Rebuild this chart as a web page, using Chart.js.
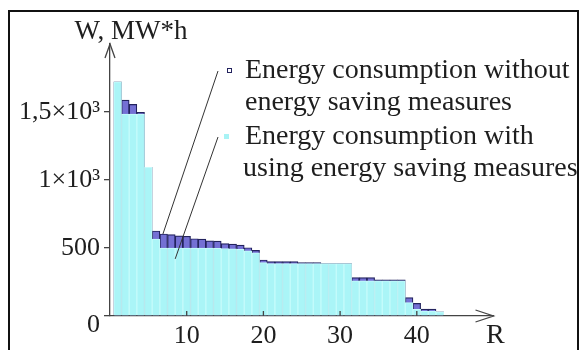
<!DOCTYPE html>
<html>
<head>
<meta charset="utf-8">
<script src="https://cdn.jsdelivr.net/npm/chart.js@4"></script>
<style>
  html, body { margin: 0; padding: 0; background: #fff; }
  #wrap { width: 582px; height: 350px; position: relative; }
</style>
</head>
<body>
<div id="wrap"><canvas id="c"></canvas></div>
<script>
// Rank of consumer (R) and energy consumption W, MW*h
const rank = [1, 2, 3, 4, 5, 6, 7, 8, 9, 10, 11, 12, 13, 14, 15, 16, 17, 18, 19, 20,
  21, 22, 23, 24, 25, 26, 27, 28, 29, 30, 31, 32, 33, 34, 35, 36, 37, 38, 39, 40, 41, 42, 43];

const withoutSaving = [1722, 1588, 1556, 1497, 1093, 625, 603, 598, 590, 586, 568, 565, 553, 550, 532, 528, 522, 502, 482, 412,
  400, 400, 400, 400, 392, 392, 392, 385, 385, 385, 385, 282, 282, 282, 266, 266, 266, 266, 135, 93, 51, 51, 30];

const withSaving = [1722, 1485, 1485, 1485, 1093, 566, 500, 500, 500, 500, 500, 500, 500, 498, 496, 494, 490, 480, 465, 392,
  385, 385, 385, 385, 385, 385, 385, 385, 385, 385, 385, 259, 259, 259, 259, 259, 259, 259, 98, 49, 37, 37, 30];

const yTickValues = [0, 500, 1000, 1500];
const yTickLabels = [['', '0'], '500', '1×10³', '1,5×10³'];
const xTickValues = [10, 20, 30, 40];

const yAxisTitle = 'W, MW*h';
const xAxisTitle = 'R';
const legendWithout = ['Energy consumption without', 'energy saving measures'];
const legendWith = ['Energy consumption with', 'using energy saving measures'];
// where each legend leader line points, in data units (R, W)
const leaderWithout = [6.9, 603];
const leaderWith = [8.5, 420];

const serif = "'Liberation Serif', 'Times New Roman', serif";
const ink = '#1e1e1e';

const decorations = {
  id: 'decorations',
  beforeDraw(chart) {
    const ctx = chart.ctx;
    ctx.save();
    ctx.fillStyle = '#ffffff';
    ctx.fillRect(0, 0, chart.width, chart.height);
    // outer frame
    ctx.strokeStyle = '#111';
    ctx.lineWidth = 2;
    ctx.beginPath();
    ctx.moveTo(9, chart.height + 2);
    ctx.lineTo(9, 11);
    ctx.lineTo(578, 11);
    ctx.lineTo(578, chart.height + 2);
    ctx.stroke();
    ctx.restore();
  },
  afterDraw(chart) {
    const ctx = chart.ctx;
    const xs = chart.scales.x, ys = chart.scales.y;
    const area = chart.chartArea;
    ctx.save();
    ctx.strokeStyle = '#444';
    ctx.lineWidth = 1.3;

    // inward ticks on the R axis
    ctx.beginPath();
    xTickValues.forEach(v => {
      const px = xs.getPixelForValue(v);
      ctx.moveTo(px, area.bottom);
      ctx.lineTo(px, area.bottom - 5);
    });
    ctx.stroke();

    // axis arrowheads
    ctx.beginPath();
    ctx.moveTo(area.right - 18, area.bottom - 6);
    ctx.lineTo(area.right, area.bottom);
    ctx.lineTo(area.right - 18, area.bottom + 6);
    ctx.moveTo(area.left - 5, area.top + 14);
    ctx.lineTo(area.left, area.top);
    ctx.lineTo(area.left + 5, area.top + 14);
    ctx.stroke();

    // axis titles
    ctx.fillStyle = ink;
    ctx.textBaseline = 'alphabetic';
    ctx.font = '27px ' + serif;
    ctx.textAlign = 'center';
    ctx.fillText(yAxisTitle, 131, 39);
    ctx.font = '28px ' + serif;
    ctx.textAlign = 'left';
    ctx.fillText(xAxisTitle, 486, 343);

    // legend leader lines
    ctx.strokeStyle = '#333';
    ctx.lineWidth = 1;
    ctx.beginPath();
    ctx.moveTo(218, 71);
    ctx.lineTo(xs.getPixelForValue(leaderWithout[0]), ys.getPixelForValue(leaderWithout[1]));
    ctx.moveTo(218, 137);
    ctx.lineTo(xs.getPixelForValue(leaderWith[0]), ys.getPixelForValue(leaderWith[1]));
    ctx.stroke();

    // legend markers
    ctx.fillStyle = '#ffffff';
    ctx.strokeStyle = '#23235e';
    ctx.fillRect(227, 68, 4, 4);
    ctx.strokeRect(227.5, 68.5, 4, 4);
    ctx.fillStyle = '#a8f3f5';
    ctx.fillRect(224, 134, 5, 5);

    // legend text
    ctx.fillStyle = ink;
    ctx.font = '28px ' + serif;
    ctx.textAlign = 'left';
    ctx.fillText(legendWithout[0], 245, 78);
    ctx.fillText(legendWithout[1], 245, 110);
    ctx.fillText(legendWith[0], 245, 144);
    ctx.fillText(legendWith[1], 243, 176);
    ctx.restore();
  }
};

new Chart(document.getElementById('c'), {
  type: 'bar',
  data: {
    datasets: [
      {
        label: legendWith.join(' '),
        data: rank.map((r, i) => ({ x: r, y: withSaving[i] })),
        backgroundColor: 'rgb(170, 245, 247)',
        borderColor: 'rgb(198, 251, 251)',
        borderWidth: 1,
        grouped: false,
        barPercentage: 1,
        categoryPercentage: 1,
        order: 0
      },
      {
        label: legendWithout.join(' '),
        data: rank.map((r, i) => ({ x: r, y: withoutSaving[i] })),
        backgroundColor: 'rgb(116, 112, 212)',
        borderColor: '#23235e',
        borderWidth: 1.2,
        grouped: false,
        barPercentage: 1,
        categoryPercentage: 1,
        order: 1
      }
    ]
  },
  options: {
    responsive: true,
    maintainAspectRatio: false,
    animation: false,
    events: [],
    layout: { padding: { left: 0, top: 44, right: 88.5, bottom: 0 } },
    plugins: { legend: { display: false }, tooltip: { enabled: false } },
    scales: {
      x: {
        type: 'linear',
        min: 0,
        max: 50,
        offset: false,
        afterFit(s) { s.height = 34; },
        afterBuildTicks(s) { s.ticks = xTickValues.map(v => ({ value: v })); },
        grid: { display: false },
        border: { display: true, color: '#444', width: 1.3 },
        ticks: {
          padding: 0,
          color: ink,
          font: { family: serif, size: 26, lineHeight: 0.95 },
          maxRotation: 0,
          autoSkip: false
        }
      },
      y: {
        type: 'linear',
        min: 0,
        max: 2000,
        afterFit(s) { s.width = 110; },
        afterBuildTicks(s) { s.ticks = yTickValues.map(v => ({ value: v })); },
        grid: { display: true, drawOnChartArea: false, drawTicks: true, tickLength: 6, color: '#444', lineWidth: 1.3 },
        border: { display: true, color: '#444', width: 1.3 },
        ticks: {
          padding: 4,
          color: ink,
          font: { family: serif, size: 26, lineHeight: 0.7 },
          autoSkip: false,
          callback: v => yTickLabels[yTickValues.indexOf(v)]
        }
      }
    }
  },
  plugins: [decorations]
});
</script>
</body>
</html>
